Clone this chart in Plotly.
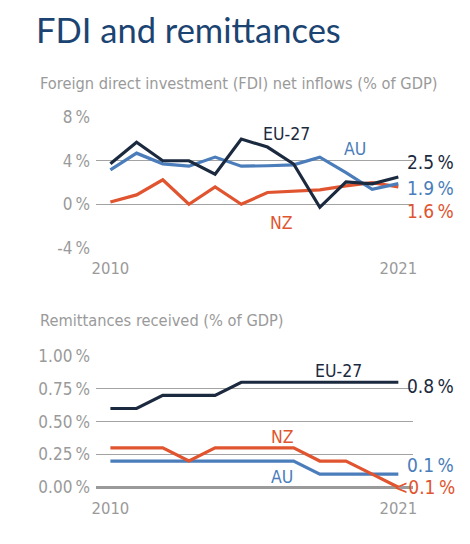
import plotly.graph_objects as go

years = list(range(2010, 2022))

fdi_eu = [3.72, 5.7, 4.0, 4.0, 2.77, 6.0, 5.26, 3.7, -0.28, 2.05, 1.87, 2.5]
fdi_au = [3.17, 4.7, 3.72, 3.5, 4.34, 3.5, 3.54, 3.62, 4.33, 2.9, 1.38, 1.9]
fdi_nz = [0.2, 0.86, 2.25, 0.0, 1.6, 0.0, 1.08, 1.23, 1.32, 1.69, 1.99, 1.6]

rem_eu = [0.6, 0.6, 0.7, 0.7, 0.7, 0.8, 0.8, 0.8, 0.8, 0.8, 0.8, 0.8]
rem_au = [0.2, 0.2, 0.2, 0.2, 0.2, 0.2, 0.2, 0.2, 0.1, 0.1, 0.1, 0.1]
rem_nz = [0.3, 0.3, 0.3, 0.2, 0.3, 0.3, 0.3, 0.3, 0.2, 0.2, 0.1, 0.0]

fdi_ticks = [-4, 0, 4, 8]
fdi_ticklabels = ["-4\u2009%", "0\u2009%", "4\u2009%", "8\u2009%"]
rem_ticks = [0, 0.25, 0.5, 0.75, 1.0]
rem_ticklabels = ["0.00\u2009%", "0.25\u2009%", "0.50\u2009%", "0.75\u2009%", "1.00\u2009%"]
x_ticks = [2010, 2021]

C_EU = "#1c2a40"
C_AU = "#4a7dba"
C_NZ = "#e0552f"
GRAY = "#9a9a9a"
GRID = "#a3a3a3"
FONT = "DejaVu Sans Condensed"

OFF = 8.0  # page body margin
W, H = 470.0 - OFF, 544.0 - OFF
L, R = 96.0 - OFF, 65.0 - OFF
PW = W - L - R

def px(x):
    return (x - OFF - L) / PW

def py(y):
    return 1 - (y - OFF) / H

fig = go.Figure()
for vals, col in [(fdi_nz, C_NZ), (fdi_au, C_AU), (fdi_eu, C_EU)]:
    fig.add_trace(go.Scatter(x=years, y=vals, mode="lines", line=dict(color=col, width=3.2),
                             xaxis="x", yaxis="y", showlegend=False, hoverinfo="skip"))
for vals, col in [(rem_au, C_AU), (rem_nz, C_NZ), (rem_eu, C_EU)]:
    fig.add_trace(go.Scatter(x=years, y=vals, mode="lines", line=dict(color=col, width=3.2),
                             xaxis="x2", yaxis="y2", showlegend=False, hoverinfo="skip"))

xr = [2009.45, 2021.56]
common_x = dict(range=xr, tickvals=x_ticks, showgrid=False, zeroline=False, showline=False,
                automargin=False, tickfont=dict(family=FONT, size=16.5, color=GRAY), ticks="",
                ticklabelstandoff=9, fixedrange=True)
common_y = dict(showgrid=True, gridcolor=GRID, gridwidth=1, showline=False, ticks="", automargin=False,
                ticklabelstandoff=5, tickfont=dict(family=FONT, size=17, color=GRAY), fixedrange=True)

fig.update_layout(
    width=W, height=H,
    margin=dict(l=L, r=R, t=0, b=0),
    paper_bgcolor="white", plot_bgcolor="white",
    xaxis=dict(domain=[0, 1], anchor="y", **common_x),
    yaxis=dict(domain=[py(247.7), py(117.3)], range=[-4, 8], tickvals=fdi_ticks, ticktext=fdi_ticklabels,
               zeroline=False, anchor="x", **common_y),
    xaxis2=dict(domain=[0, 1], anchor="y2", **common_x),
    yaxis2=dict(domain=[py(487.3), py(356)], range=[0, 1], tickvals=rem_ticks, ticktext=rem_ticklabels,
                zeroline=True, zerolinecolor=GRAY, zerolinewidth=3, anchor="x2", **common_y),
)

ann = []
def pann(text, x, y, col, size, xa="left", family=FONT):
    ann.append(dict(text=text, x=px(x), y=py(y), xref="paper", yref="paper", xanchor=xa,
                    yanchor="middle", showarrow=False, font=dict(family=family, size=size, color=col)))

pann("FDI and remittances", 34, 30, "#1b4472", 34.5, family="Lato")
pann("Foreign direct investment (FDI) net inflows (% of GDP)", 38, 83, GRAY, 16.3)
pann("Remittances received (% of GDP)", 38, 320, GRAY, 16.3)

def lab(text, x, y, col, axis=""):
    ann.append(dict(text=text, x=x, y=y, xref="x" + axis, yref="y" + axis, xanchor="center",
                    yanchor="middle", showarrow=False, font=dict(family=FONT, size=17.5, color=col)))

lab("EU-27", 2016.74, 6.48, C_EU)
lab("AU", 2019.33, 5.06, C_AU)
lab("NZ", 2016.54, -1.72, C_NZ)
pann(f"{fdi_eu[-1]:.1f}\u2009%", 405, 161.7, C_EU, 19)
pann(f"{fdi_au[-1]:.1f}\u2009%", 405, 187.7, C_AU, 19)
pann(f"{fdi_nz[-1]:.1f}\u2009%", 405, 210.7, C_NZ, 19)

lab("EU-27", 2018.7, 0.888, C_EU, axis="2")
lab("NZ", 2016.58, 0.385, C_NZ, axis="2")
lab("AU", 2016.56, 0.08, C_AU, axis="2")
pann(f"{rem_eu[-1]:.1f}\u2009%", 405, 386, C_EU, 19)
pann(f"{rem_au[-1]:.1f}\u2009%", 405, 465, C_AU, 19)
pann("<0.1\u2009%", 392, 486.7, C_NZ, 19)

fig.update_layout(annotations=ann)
fig.write_html("out.html")
